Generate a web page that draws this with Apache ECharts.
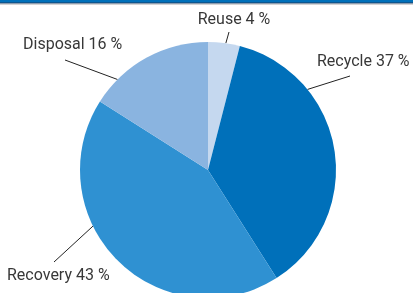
<!DOCTYPE html>
<html>
  <head>
    <meta charset="utf-8" />
    <title>Waste treatment shares</title>
    <script src="https://cdn.jsdelivr.net/npm/echarts@6/dist/echarts.min.js"></script>
  </head>
  <body style="margin:0;">
    <div id="pie" style="width: 413px; height:293px;"></div>
    <script type="text/javascript">
      // data, clockwise from 12 o'clock
      var categories = ['Reuse', 'Recycle', 'Recovery', 'Disposal'];
      var shares = [4, 37, 43, 16];
      var colors = ['#c5d8ef', '#0070ba', '#2f91d2', '#8ab4e0'];

      // pie geometry and hand placed labels (angle on rim in degrees, line end, text anchor)
      var cx = 208, cy = 170, r = 128;
      var labelSpots = [
        { at: 8,   end: [229, 32],  text: [234, 20], align: 'center' },
        { at: 51,  end: [350, 76],  text: [317, 62], align: 'left' },
        { at: 244, end: [54, 262],  text: [7, 276],  align: 'left' },
        { at: 315, end: [65, 60],   text: [23, 45],  align: 'left' }
      ];

      function rimPoint(deg) {
        var a = deg * Math.PI / 180;
        return [cx + r * Math.sin(a), cy - r * Math.cos(a)];
      }

      var chart = echarts.init(document.getElementById('pie'));
      chart.setOption({
        animation: false,
        graphic: [
          { type: 'rect', shape: { x: 0, y: 0, width: 413, height: 3 }, style: { fill: '#0070ba' } },
          { type: 'rect', shape: { x: 0, y: 2.5, width: 413, height: 1 }, style: { fill: '#1d3d63' } },
          { type: 'rect', shape: { x: 0, y: 4, width: 413, height: 1 }, style: { fill: '#d4d4d4' } }
        ],
        series: [{
          type: 'pie',
          center: [cx, cy],
          radius: r,
          startAngle: 90,
          clockwise: true,
          avoidLabelOverlap: false,
          color: colors,
          label: {
            show: true,
            formatter: '{b} {c} %',
            color: '#383838',
            fontSize: 16,
            fontFamily: 'Roboto'
          },
          labelLine: {
            show: true,
            length: 10,
            length2: 0,
            lineStyle: { color: '#222', width: 1 }
          },
          labelLayout: function (params) {
            var s = labelSpots[params.dataIndex];
            return {
              x: s.text[0],
              y: s.text[1],
              align: s.align,
              verticalAlign: 'middle',
              labelLinePoints: [rimPoint(s.at), s.end, s.end]
            };
          },
          emphasis: { disabled: true },
          data: categories.map(function (c, i) {
            return { name: c, value: shares[i] };
          })
        }]
      });
    </script>
  </body>
</html>
